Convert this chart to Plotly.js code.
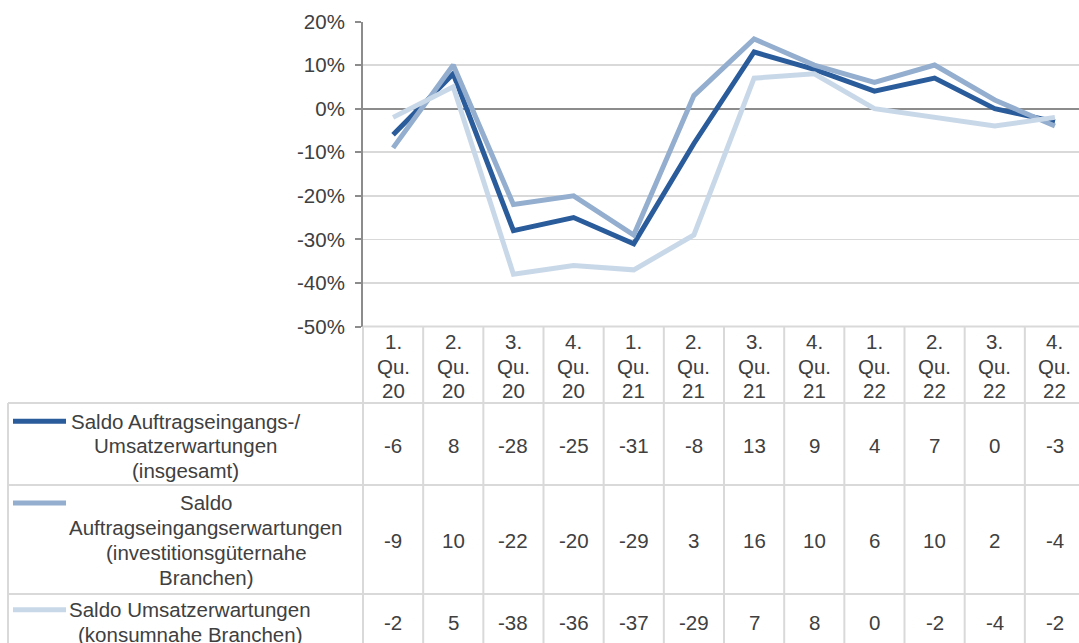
<!DOCTYPE html>
<html><head><meta charset="utf-8">
<script src="https://cdn.plot.ly/plotly-3.0.1.min.js"></script>
<style>html,body{margin:0;padding:0;overflow:hidden;background:#fff}</style>
</head><body><div id="chart" style="width:1079px;height:643px"></div>
<script>
// ---- data ----
const categories = ['1.<br>Qu.<br>20','2.<br>Qu.<br>20','3.<br>Qu.<br>20','4.<br>Qu.<br>20',
                    '1.<br>Qu.<br>21','2.<br>Qu.<br>21','3.<br>Qu.<br>21','4.<br>Qu.<br>21',
                    '1.<br>Qu.<br>22','2.<br>Qu.<br>22','3.<br>Qu.<br>22','4.<br>Qu.<br>22'];
const seriesNames = [
  ['Saldo Auftragseingangs-/', 'Umsatzerwartungen', '(insgesamt)'],
  ['Saldo', 'Auftragseingangserwartungen', '(investitionsgüternahe', 'Branchen)'],
  ['Saldo Umsatzerwartungen', '(konsumnahe Branchen)']
];
const overall  = [-6, 8, -28, -25, -31, -8, 13, 9, 4, 7, 0, -3];
const invest   = [-9, 10, -22, -20, -29, 3, 16, 10, 6, 10, 2, -4];
const consumer = [-2, 5, -38, -36, -37, -29, 7, 8, 0, -2, -4, -2];
const yTickVals = [-50, -40, -30, -20, -10, 0, 10, 20];
const yTickText = ['-50%', '-40%', '-30%', '-20%', '-10%', '0%', '10%', '20%'];

// ---- styling / geometry ----
const W = 1079, H = 643;
const px = x => x / W, py = y => 1 - y / H;
const colors = ['#2A5B9B', '#93AECE', '#C9D8E9'];
const textColor = '#404040';
const fontFam = 'Liberation Sans, Arial, sans-serif';
const fs = 20.5;
const plotLeft = 363, plotTop = 21.5, plotBottom = 326.5;
const tableLeft = 8, headerBottom = 403;
const rowBounds = [403, 485, 594];
const rowCenters = [446, 540, 622];
const rowLabelCenters = [185, 206, 190];
const lineGap = 24.7;
const keyX0 = 13, keyX1 = 66;
const headerCenter = 366;
const tableLine = {color: '#D9D9D9', width: 2};

const allSeries = [overall, invest, consumer];
const traces = allSeries.map((vals, i) => ({
  type: 'scatter', mode: 'lines',
  x: categories, y: vals,
  line: {color: colors[i], width: 5},
  name: seriesNames[i].join(' '),
  hoverinfo: 'skip'
}));

const shapes = [];
const annotations = [];
// vertical table lines
for (let i = 0; i <= categories.length; i++) {
  shapes.push({type: 'line', xref: 'x', yref: 'paper', x0: i - 0.5, x1: i - 0.5,
    y0: py(plotBottom), y1: py(H + 5), line: tableLine});
}
// top border of header (x axis)
shapes.push({type: 'line', xref: 'paper', yref: 'paper', x0: px(plotLeft), x1: 1,
  y0: py(plotBottom), y1: py(plotBottom), line: tableLine});
// horizontal row lines
rowBounds.forEach(yb => {
  shapes.push({type: 'line', xref: 'paper', yref: 'paper', x0: px(tableLeft), x1: 1,
    y0: py(yb), y1: py(yb), line: tableLine});
});
// left border
shapes.push({type: 'line', xref: 'paper', yref: 'paper', x0: px(tableLeft), x1: px(tableLeft),
  y0: py(headerBottom), y1: py(H + 5), line: tableLine});
// label-column right border
shapes.push({type: 'line', xref: 'paper', yref: 'paper', x0: px(plotLeft), x1: px(plotLeft),
  y0: py(plotBottom), y1: py(H + 5), line: tableLine});

// header category labels
categories.forEach((c, i) => {
  const parts = c.split('<br>');
  parts.forEach((t, k) => {
    annotations.push({xref: 'x', yref: 'paper', x: i, y: py(headerCenter + (k - (parts.length - 1) / 2) * 24.5),
      text: t, showarrow: false, xanchor: 'center', yanchor: 'middle',
      font: {family: fontFam, size: fs, color: textColor}});
  });
});

// rows: legend keys, labels, values
allSeries.forEach((vals, r) => {
  const lines = seriesNames[r];
  const n = lines.length;
  const firstY = rowCenters[r] - (n - 1) / 2 * lineGap;
  shapes.push({type: 'line', xref: 'paper', yref: 'paper', x0: px(keyX0), x1: px(keyX1),
    y0: py(firstY), y1: py(firstY), line: {color: colors[r], width: 5}});
  lines.forEach((t, k) => {
    annotations.push({xref: 'paper', yref: 'paper', x: px(rowLabelCenters[r]), y: py(firstY + k * lineGap),
      text: t, showarrow: false, xanchor: 'center', yanchor: 'middle',
      font: {family: fontFam, size: fs, color: textColor}});
  });
  vals.forEach((v, i) => {
    annotations.push({xref: 'x', yref: 'paper', x: i, y: py(rowCenters[r]),
      text: String(v), showarrow: false, xanchor: 'center', yanchor: 'middle',
      font: {family: fontFam, size: fs, color: textColor}});
  });
});

const layout = {
  width: W, height: H,
  margin: {l: 0, r: 0, t: 0, b: 0, pad: 0},
  paper_bgcolor: '#fff', plot_bgcolor: '#fff',
  showlegend: false,
  xaxis: {
    type: 'category', domain: [px(plotLeft), 1], range: [-0.5, 11.4],
    showgrid: false, zeroline: false, showline: false, showticklabels: false, ticks: '',
    fixedrange: true
  },
  yaxis: {
    domain: [py(plotBottom), py(plotTop)], range: [-50, 20],
    tickvals: yTickVals, ticktext: yTickText,
    showgrid: true, gridcolor: '#D9D9D9', gridwidth: 1.5,
    zeroline: true, zerolinecolor: '#8C8C8C', zerolinewidth: 2,
    showline: true, linecolor: '#8C8C8C', linewidth: 2,
    ticks: 'outside', ticklen: 6, tickwidth: 2, tickcolor: '#8C8C8C',
    ticklabelstandoff: 6,
    tickfont: {family: fontFam, size: fs, color: textColor},
    fixedrange: true
  },
  shapes: shapes,
  annotations: annotations
};

Plotly.newPlot('chart', traces, layout, {displayModeBar: false, staticPlot: true});
</script>
</body></html>
